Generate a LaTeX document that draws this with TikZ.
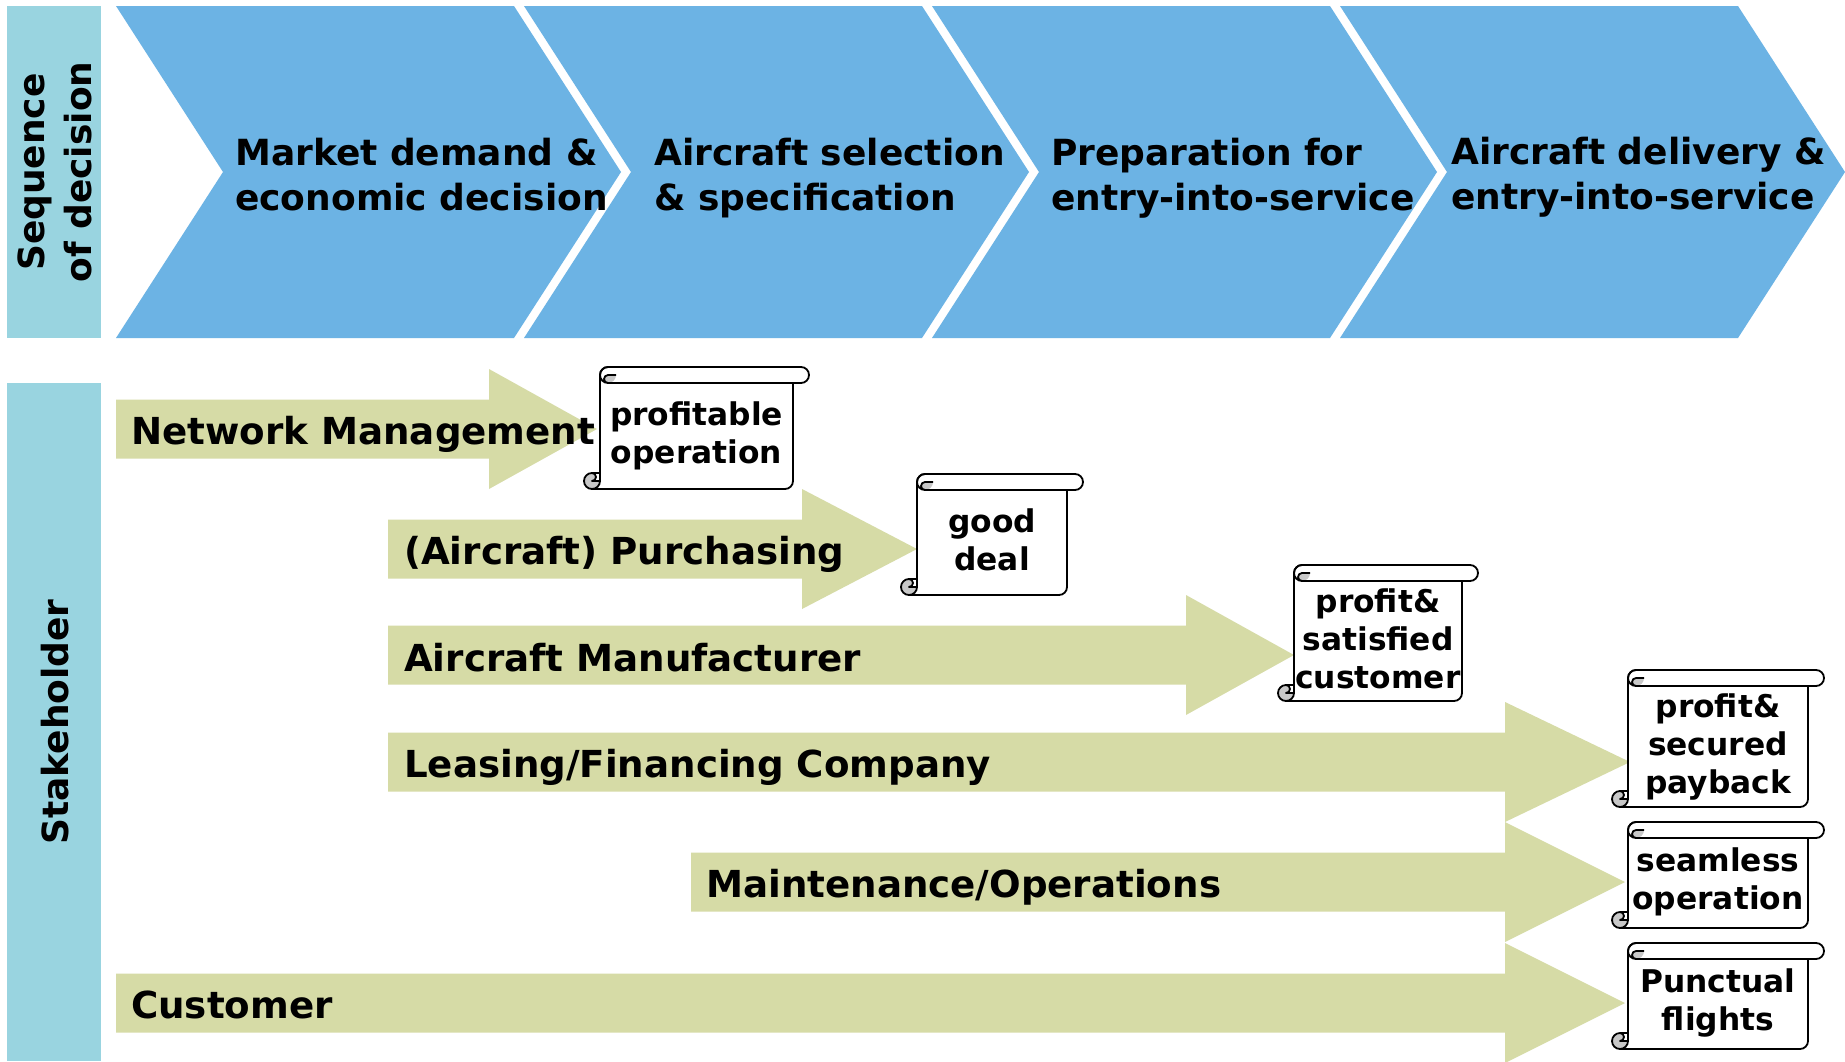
\documentclass[tikz,border=0pt]{standalone}
\usepackage{fontspec}
\setmainfont{DejaVu Sans}
\definecolor{stepblue}{RGB}{108,179,228}
\definecolor{sideblue}{RGB}{153,212,224}
\definecolor{stakekhaki}{RGB}{214,219,166}
\definecolor{curlgray}{RGB}{200,200,200}
\tikzset{
  sidebar/.style={fill=sideblue},
  stepchevron/.style={fill=stepblue},
  stakearrow/.style={fill=stakekhaki},
  scrollline/.style={draw=black, line width=1.8pt, line join=round},
  sidelabel/.style={font=\bfseries\fontsize{36}{47}\selectfont, rotate=90, align=center, inner sep=0pt},
  steplabel/.style={font=\bfseries\fontsize{36}{45}\selectfont, align=left, anchor=base west, inner sep=0pt},
  arrowlabel/.style={font=\bfseries\fontsize{37.2}{44}\selectfont, anchor=base west, inner sep=0pt},
  scrolllabel/.style={font=\bfseries\fontsize{31.3}{38}\selectfont, align=center, inner sep=0pt},
}
% chevron of the decision sequence: left edge, right edge
\newcommand\stepshape[2]{%
  \fill[stepchevron] (#1,6) -- (#2,6) -- (#2+107,172) -- (#2,338) -- (#1,338) -- (#1+107,172) -- cycle;}
% block arrow of a stakeholder: body start, head base, tip, centre line
\newcommand\stakeshape[4]{%
  \fill[stakearrow] (#1,#4-29.5) -- (#2,#4-29.5) -- (#2,#4-60) -- (#3,#4)
    -- (#2,#4+60) -- (#2,#4+29.5) -- (#1,#4+29.5) -- cycle;}
% vertical scroll: x1, y1, x2, y2
\newcommand\scrollpath{(16,\scH-16) -- (16,8) arc[start angle=180,end angle=270,radius=8]
    -- (\scW-8,0) arc[start angle=270,end angle=450,radius=8]
    -- (\scW-16,16) -- (\scW-16,\scH-8) arc[start angle=0,end angle=90,radius=8]
    -- (8,\scH) arc[start angle=90,end angle=270,radius=8] -- cycle}
\newcommand\scrollshape[4]{%
  \begin{scope}[shift={(#1,#2)}]
    \pgfmathsetmacro\scW{#3-#1}
    \pgfmathsetmacro\scH{#4-#2}
    \fill[white] \scrollpath;
    % shading inside the curls
    \fill[curlgray] (32,8) arc[start angle=0,end angle=90,radius=8]
      arc[start angle=90,end angle=270,radius=4] -- cycle;
    \fill[curlgray] (16,\scH-8) arc[start angle=0,end angle=270,radius=8]
      arc[start angle=270,end angle=450,radius=4] -- cycle;
    \draw[scrollline] \scrollpath;
    \draw[scrollline] (\scW-16,16) -- (24,16);
    \draw[scrollline] (24,0) arc[start angle=270,end angle=90,radius=8]
      arc[start angle=90,end angle=270,radius=4] -- (32,8);
    \draw[scrollline] (8,\scH-16) arc[start angle=270,end angle=450,radius=4] -- (16,\scH-8);
    \draw[scrollline] (8,\scH) arc[start angle=90,end angle=0,radius=8] -- (16,\scH-16);
  \end{scope}}

\begin{document}
\begin{tikzpicture}[x=1pt,y=-1pt]
\path[use as bounding box, fill=white] (0,0) rectangle (1845,1061);

% side bars
\fill[sidebar] (7,6) rectangle (101,338);
\fill[sidebar] (7,383) rectangle (101,1061);
\node[sidelabel] (seqlabel) at (55,172) {Sequence\\of decision};
\node[sidelabel] (stakelabel) at (55,722) {Stakeholder};

% sequence of decision (labels anchored on the baseline of their second line)
\stepshape{116}{514}
\stepshape{524}{922}
\stepshape{932}{1330}
\stepshape{1340}{1738}
\node[steplabel] (step1) at (235,210) {Market demand \&\\economic decision};
\node[steplabel] (step2) at (654,210) {Aircraft selection\\\& specification};
\node[steplabel] (step3) at (1051,210) {Preparation for\\entry-into-service};
\node[steplabel] (step4) at (1451,209) {Aircraft delivery \&\\entry-into-service};

% stakeholders
\stakeshape{116}{489}{597}{429}
\stakeshape{388}{802}{917}{549}
\stakeshape{388}{1186}{1294}{655}
\stakeshape{388}{1505}{1630}{762}
\stakeshape{691}{1505}{1625}{882}
\stakeshape{116}{1505}{1625}{1003}

% goals
\scrollshape{584}{367}{809}{489}
\scrollshape{901}{474}{1083}{595}
\scrollshape{1278}{565}{1478}{701}
\scrollshape{1612}{670}{1824}{807}
\scrollshape{1612}{822}{1824}{928}
\scrollshape{1612}{943}{1824}{1049}

\node[arrowlabel] (network) at (131,444) {Network Management};
\node[arrowlabel] (purchasing) at (404,564) {(Aircraft) Purchasing};
\node[arrowlabel] (manufacturer) at (404,671) {Aircraft Manufacturer};
\node[arrowlabel] (leasing) at (404,777) {Leasing/Financing Company};
\node[arrowlabel] (maintenance) at (706,897) {Maintenance/Operations};
\node[arrowlabel] (customer) at (131,1018) {Customer};

\node[scrolllabel] (goal1) at (696.5,436) {profitable\\operation};
\node[scrolllabel] (goal2) at (992,539.5) {good\\deal};
\node[scrolllabel] (goal3) at (1378,639) {profit\&\\satisfied\\customer};
\node[scrolllabel] (goal4) at (1718,746.5) {profit\&\\secured\\payback};
\node[scrolllabel] (goal5) at (1718,882) {seamless\\operation};
\node[scrolllabel] (goal6) at (1718,1003) {Punctual\\flights};
\end{tikzpicture}
\end{document}
